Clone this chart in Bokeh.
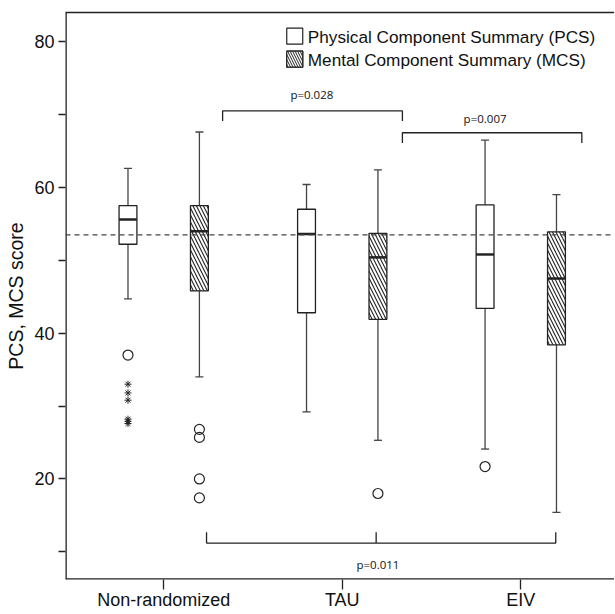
from bokeh.plotting import figure
from bokeh.models import FixedTicker, LinearAxis, Range1d, Span
from bokeh.core.properties import value
from bokeh.embed import file_html
from bokeh.resources import INLINE

# ---- data ----
groups = ["Non-randomized", "TAU", "EIV"]
group_pos = [1, 2, 3]

pcs_lower = [44.7, 29.2, 24.1]
pcs_q1 = [52.2, 42.8, 43.4]
pcs_median = [55.6, 53.6, 50.8]
pcs_q3 = [57.5, 57.0, 57.6]
pcs_upper = [62.6, 60.4, 66.5]

mcs_lower = [34.0, 25.3, 15.4]
mcs_q1 = [45.8, 41.9, 38.4]
mcs_median = [54.0, 50.4, 47.5]
mcs_q3 = [57.5, 53.7, 53.9]
mcs_upper = [67.6, 62.4, 59.0]

pcs_outlier_group = [1, 3]
pcs_outlier_value = [37.0, 21.7]
pcs_extreme_group = [1, 1, 1, 1, 1, 1]
pcs_extreme_value = [33.0, 31.8, 30.8, 28.2, 27.9, 27.6]
mcs_outlier_group = [1, 1, 1, 1, 2]
mcs_outlier_value = [26.8, 25.7, 20.0, 17.4, 18.0]

norm_value = 53.5

y_ticks = [10, 20, 30, 40, 50, 60, 70, 80]
y_tick_labels = ["", "20", "", "40", "", "60", "", "80"]

p_labels = ["p=0.028", "p=0.007", "p=0.011"]
legend_labels = ["Physical Component Summary (PCS)", "Mental Component Summary (MCS)"]

# ---- styling / layout ----
FONT = "Liberation Sans"
DARK = "#222222"
WHISK = "#444444"
OFF = 0.2
BW = 0.1
CAP = 0.045
X0, X1 = 0.45, 3.525
Y0, Y1 = 6.2, 84.0

p = figure(width=614, height=612, output_backend="svg", toolbar_location=None,
           x_range=Range1d(X0, X1), y_range=Range1d(Y0, Y1),
           min_border_left=65, min_border_right=0, min_border_top=12, min_border_bottom=30)
p.outline_line_color = None
p.right = []
p.xgrid.visible = False
p.ygrid.visible = False
p.background_fill_color = "white"
p.border_fill_color = "white"

# axes
p.xaxis.ticker = FixedTicker(ticks=group_pos)
p.xaxis.major_label_overrides = {g: l for g, l in zip(group_pos, groups)}
p.yaxis.ticker = FixedTicker(ticks=y_ticks)
p.yaxis.major_label_overrides = {t: l for t, l in zip(y_ticks, y_tick_labels)}
for ax in (p.xaxis, p.yaxis):
    ax.minor_tick_line_color = None
    ax.major_tick_in = 0
    ax.axis_line_color = None
    ax.major_tick_line_color = DARK
    ax.major_tick_line_width = 1.3
    ax.major_label_text_font = FONT
    ax.major_label_text_font_size = "18px"
    ax.major_label_text_color = "#111111"
p.xaxis.major_tick_out = 10
p.xaxis.major_label_standoff = 0
p.yaxis.major_tick_out = 7
p.yaxis.major_label_standoff = 4
p.yaxis.axis_label = "PCS, MCS score"
p.yaxis.axis_label_text_font = FONT
p.yaxis.axis_label_text_font_size = "19.5px"
p.yaxis.axis_label_text_font_style = "normal"
p.yaxis.axis_label_text_color = "#111111"
p.yaxis.axis_label_standoff = 4

top_axis = LinearAxis(ticker=FixedTicker(ticks=[]), major_tick_line_color=None,
                      minor_tick_line_color=None, major_label_text_font_size="0px",
                      axis_line_color=DARK, axis_line_width=1.3)
p.add_layout(top_axis, "above")

# left and bottom frame lines (clipped to the frame)
p.segment([X0, X0], [Y0, Y0], [X0, X1], [Y1, Y0], line_color=DARK, line_width=2.6)

# reference line
p.add_layout(Span(location=norm_value, dimension="width", line_color="#444444",
                  line_dash="5 4", line_width=1.2))


def draw_boxes(off, lower, q1, med, q3, upper, hatch):
    xs = [g + off for g in group_pos]
    # whiskers
    p.segment(xs, q3, xs, upper, line_color=WHISK, line_width=1.3)
    p.segment(xs, lower, xs, q1, line_color=WHISK, line_width=1.3)
    p.segment([x - CAP / 2 for x in xs], upper, [x + CAP / 2 for x in xs], upper,
              line_color=WHISK, line_width=1.3)
    p.segment([x - CAP / 2 for x in xs], lower, [x + CAP / 2 for x in xs], lower,
              line_color=WHISK, line_width=1.3)
    kw = dict(fill_color="white", line_color=DARK, line_width=1.3)
    if hatch:
        kw.update(hatch_pattern="left_diagonal_line", hatch_color="#222222",
                  hatch_scale=7, hatch_weight=1.1)
    p.vbar(x=xs, width=BW, bottom=q1, top=q3, **kw)
    p.segment([x - BW / 2 for x in xs], med, [x + BW / 2 for x in xs], med,
              line_color=DARK, line_width=2.5)


draw_boxes(-OFF, pcs_lower, pcs_q1, pcs_median, pcs_q3, pcs_upper, False)
draw_boxes(OFF, mcs_lower, mcs_q1, mcs_median, mcs_q3, mcs_upper, True)

# outliers
p.scatter([g - OFF for g in pcs_outlier_group], pcs_outlier_value, marker="circle",
          size=10, fill_color=None, line_color=DARK, line_width=1.2)
p.scatter([g + OFF for g in mcs_outlier_group], mcs_outlier_value, marker="circle",
          size=10, fill_color=None, line_color=DARK, line_width=1.2)
p.scatter([g - OFF for g in pcs_extreme_group], pcs_extreme_value, marker="asterisk",
          size=7, line_color=DARK, line_width=1.0)

# significance brackets
bk = dict(line_color=DARK, line_width=1.3)
p.multi_line([[1.33, 1.33, 2.337, 2.337], [2.337, 2.337, 3.342, 3.342],
              [1.24, 1.24, 3.196, 3.196]],
             [[69.1, 70.5, 70.5, 69.1], [66.1, 67.5, 67.5, 66.1],
              [12.7, 11.2, 11.2, 12.7]], **bk)
p.segment([2.19], [11.2], [2.19], [12.7], **bk)
p.text([1.83, 2.8, 2.2], [72.7, 69.4, 8.3], text=p_labels,
       text_font=value("Open Sans"), text_font_size="11.5px", text_color="#111111",
       text_align="center", text_baseline="middle")

# legend
p.rect([1.734, 1.734], [80.75, 77.6], width=16, height=16, width_units="screen",
       height_units="screen", fill_color="white", line_color=DARK, line_width=1.2)
p.rect([1.734], [77.6], width=16, height=16, width_units="screen",
       height_units="screen", fill_color="white", line_color=DARK, line_width=1.2,
       hatch_pattern="left_diagonal_line", hatch_color="#222222", hatch_scale=5,
       hatch_weight=1.0)
p.text([1.807, 1.807], [80.6, 77.45], text=legend_labels, text_font=value(FONT),
       text_font_size="17.2px", text_color="#111111", text_align="left",
       text_baseline="middle")

open("out.html", "w").write(file_html(p, INLINE))
